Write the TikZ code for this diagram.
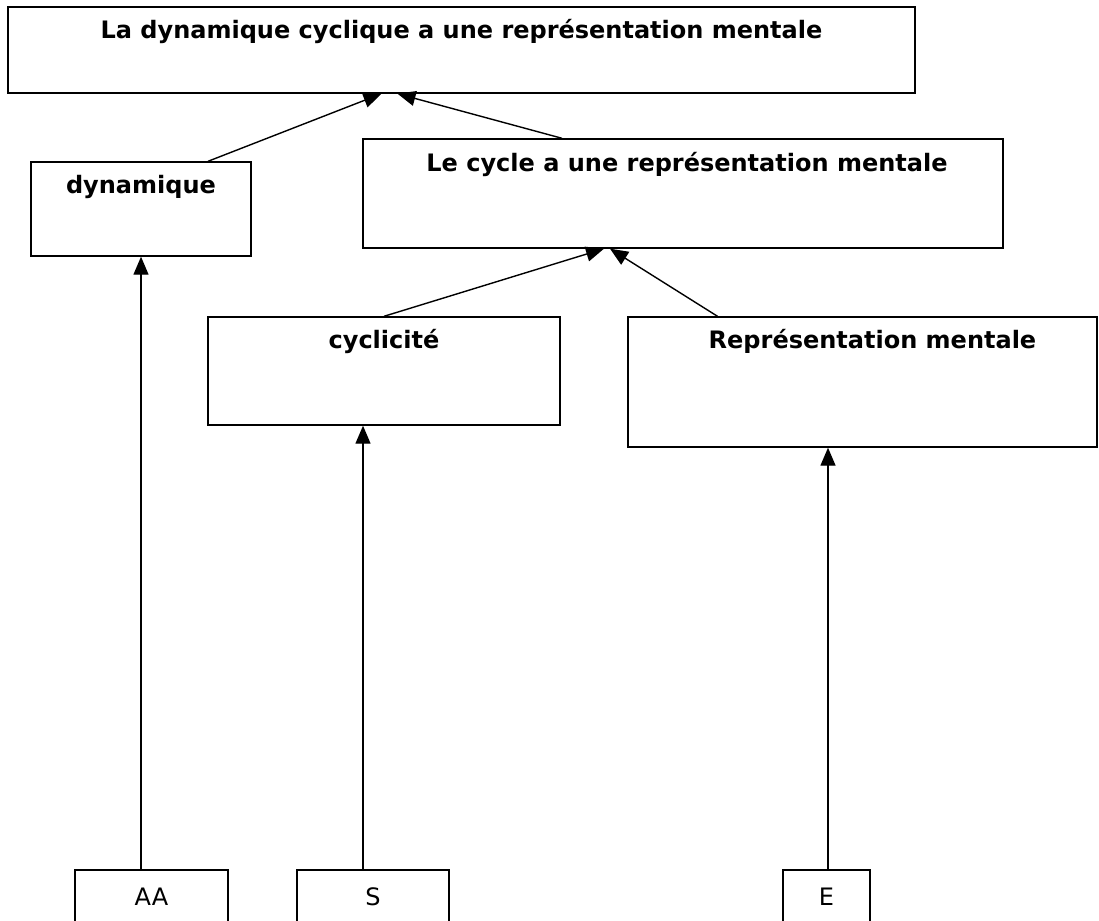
\documentclass[tikz,border=0pt]{standalone}
\usepackage{fontspec}
\setmainfont{DejaVu Sans}
\usetikzlibrary{arrows.meta}

\begin{document}
\begin{tikzpicture}[
    x = 1pt, y = -1pt,
    box/.style = {draw = black, line width = 1.4pt, fill = white, inner sep = 0pt},
    txt/.style = {font = \fontsize{24}{28}\selectfont\bfseries, anchor = mid},
    leaf/.style = {box, minimum height = 54pt, font = \fontsize{24}{28}\selectfont},
    arr/.style = {-{Triangle[length = 18pt, width = 15pt]}, line width = 1.4pt},
    ]

    \useasboundingbox (0,0) rectangle (1099,920);

    \node[box, minimum width = 907pt, minimum height = 86pt,
        label = {[txt, yshift = -29pt]north:La dynamique cyclique a une représentation mentale}]
        (dcrm) at (461.5,50) {};
    \node[box, minimum width = 220pt, minimum height = 94pt,
        label = {[txt, yshift = -29pt]north:dynamique}] (dyn) at (141,209) {};
    \node[box, minimum width = 640pt, minimum height = 109pt,
        label = {[txt, yshift = -30pt, xshift = 4pt]north:Le cycle a une représentation mentale}]
        (cycle) at (683,193.5) {};
    \node[box, minimum width = 352pt, minimum height = 108pt,
        label = {[txt, yshift = -29pt]north:cyclicité}] (cyc) at (384,371) {};
    \node[box, minimum width = 469pt, minimum height = 130pt,
        label = {[txt, yshift = -29pt, xshift = 10pt]north:Représentation mentale}]
        (repr) at (862.5,382) {};

    \node[leaf, minimum width = 153pt] (aa) at (151.5,897) {AA};
    \node[leaf, minimum width = 152pt] (s) at (373,897) {S};
    \node[leaf, minimum width = 87pt] (e) at (826.5,897) {E};

    \draw[arr] ([xshift = 67pt]dyn.north) -- ([xshift = -80pt]dcrm.south);
    \draw[arr] ([xshift = -121pt]cycle.north) -- ([xshift = -64pt]dcrm.south);
    \draw[arr] (cyc.north) -- ([xshift = -79pt]cycle.south);
    \draw[arr] ([xshift = -145pt]repr.north) -- ([xshift = -73pt]cycle.south);
    \draw[arr] (dyn.south |- aa.north) -- (dyn.south);
    \draw[arr] ([xshift = -10pt]s.north) -- ([xshift = -10pt]s.north |- cyc.south);
    \draw[arr] ([xshift = 1.5pt]e.north) -- ([xshift = 1.5pt]e.north |- repr.south);
\end{tikzpicture}
\end{document}
